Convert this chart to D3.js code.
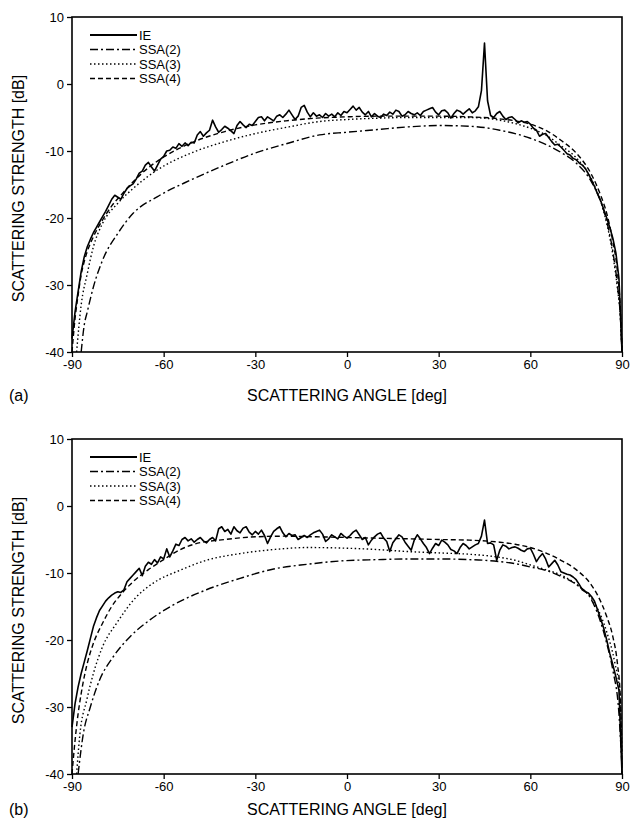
<!DOCTYPE html>
<html>
<head>
<meta charset="utf-8">
<script src="https://cdn.jsdelivr.net/npm/d3@7"></script>
<style>
  body { margin: 0; background: #fff; }
  text { font-family: "Liberation Sans", Arial, sans-serif; fill: #000; }
</style>
</head>
<body>
<svg id="chart" width="634" height="825"></svg>
<script>
// ---- data ----
var ieAngles = d3.range(-90, 91, 1)   // 1 deg grid for the IE curve

var ieTop = [-38,-34,-31,-28,-25.8,-24.3,-23.2,-22.2,-21.4,-20.6,
  -19.8,-19.0,-18.1,-17.2,-16.6,-16.9,-17.2,-16.3,-15.6,-15.2,
  -14.9,-14.2,-13.3,-13.0,-12.1,-11.7,-12.4,-13.0,-12.1,-11.2,
  -10.8,-10.0,-9.9,-9.4,-9.6,-8.9,-9.3,-8.8,-9.2,-8.7,
  -8.8,-7.6,-7.1,-7.8,-7.3,-6.9,-5.4,-6.4,-7.2,-6.8,
  -6.3,-6.6,-7.0,-7.4,-6.2,-5.6,-6.1,-6.5,-6.0,-6.2,
  -5.6,-5.0,-4.9,-5.5,-4.9,-5.2,-5.5,-4.8,-4.6,-5.0,
  -4.5,-3.9,-4.6,-5.3,-4.8,-3.5,-3.2,-4.2,-4.9,-4.3,
  -4.8,-4.6,-5.0,-4.4,-4.8,-4.5,-4.9,-4.3,-4.7,-4.1,
  -4.3,-3.8,-3.3,-3.9,-3.5,-4.2,-4.6,-4.1,-4.9,-4.4,
  -4.8,-5.0,-4.5,-4.7,-4.2,-4.5,-3.9,-4.1,-4.8,-4.6,
  -4.1,-4.4,-4.6,-4.3,-4.7,-4.1,-3.9,-3.7,-3.5,-4.2,
  -4.6,-4.0,-3.9,-4.3,-5.1,-4.4,-3.9,-4.1,-4.5,-4.1,
  -3.7,-4.3,-4.0,-3.4,-1.0,6.1,-2.5,-4.7,-5.0,-4.4,
  -4.1,-4.8,-5.3,-5.0,-4.9,-5.3,-5.8,-5.5,-5.7,-5.6,
  -6.0,-6.6,-6.9,-7.8,-7.5,-7.4,-8.0,-8.6,-9.1,-9.0,
  -9.4,-9.9,-10.4,-10.6,-11.1,-11.3,-11.8,-12.1,-12.6,-13.4,
  -14.3,-15.3,-16.4,-17.4,-18.7,-20.0,-21.4,-23.0,-25.2,-29.0,
  -40]

var ieBottom = [-33,-29.5,-27,-25,-23.3,-21.6,-19.8,-18.0,-16.7,-15.6,
  -14.9,-14.2,-13.7,-13.3,-13.0,-12.8,-12.9,-12.5,-11.3,-10.8,
  -10.3,-9.8,-9.3,-10.4,-9.0,-8.4,-8.7,-8.0,-8.5,-7.6,
  -7.9,-6.4,-7.6,-6.7,-5.7,-5.9,-5.0,-4.7,-5.2,-4.9,
  -5.4,-5.0,-4.7,-5.2,-5.5,-5.0,-4.7,-5.2,-3.4,-3.1,
  -3.8,-3.5,-4.2,-3.1,-3.7,-4.0,-3.3,-3.1,-3.9,-4.3,
  -3.8,-4.2,-3.6,-4.4,-5.6,-4.6,-3.8,-3.4,-3.1,-4.0,
  -4.6,-4.1,-4.4,-4.3,-5.0,-4.7,-4.4,-4.7,-4.3,-4.0,
  -3.8,-3.6,-4.2,-5.3,-4.9,-4.3,-4.6,-4.9,-4.1,-4.5,
  -4.8,-4.4,-3.9,-3.6,-4.3,-5.0,-4.7,-5.8,-5.1,-4.6,
  -4.2,-4.0,-4.8,-5.3,-6.8,-5.5,-4.9,-4.3,-4.6,-5.4,
  -6.0,-6.6,-5.1,-4.3,-4.9,-5.6,-6.2,-7.1,-6.3,-5.6,
  -5.9,-5.1,-5.4,-5.8,-6.5,-6.7,-7.1,-6.2,-5.6,-5.9,
  -6.4,-6.1,-5.8,-5.6,-4.5,-2.1,-5.6,-5.5,-5.8,-8.1,
  -6.6,-5.8,-6.0,-6.4,-6.2,-6.1,-6.3,-6.6,-6.8,-6.4,
  -6.3,-7.2,-8.3,-7.6,-7.1,-7.9,-9.1,-8.6,-8.1,-8.8,
  -9.8,-10.0,-10.2,-10.3,-10.6,-11.0,-11.7,-12.5,-12.8,-13.0,
  -13.5,-14.2,-15.5,-16.8,-18.2,-20.0,-22.0,-23.7,-25.5,-27.5,
  -40]

// SSA curves (top panel)
var ssa2TopAngles = [-87,-86,-85,-83,-80,-75,-70,-62,-51,-40,-30,-19,-9,0,10,20,30,40,45,50,55,60,65,70,75,80,83,85,87,88.5,89.5,90]
var ssa2Top = [-40,-36,-34,-30.3,-26.3,-22.3,-19.3,-16.8,-14.3,-12.1,-10.3,-8.8,-7.6,-7.2,-6.8,-6.4,-6.2,-6.3,-6.5,-6.9,-7.4,-8.1,-9.0,-10.2,-11.8,-14.6,-17.5,-20.5,-25,-30,-35,-40]
var ssa3TopAngles = [-88.5,-87,-85,-83,-80,-75,-70,-62,-51,-40,-30,-19,-9,0,10,20,30,40,45,50,55,60,65,70,75,80,83,85,87,88.5,89.5,90]
var ssa3Top = [-40,-33,-28.3,-24.3,-20.8,-17.8,-15.6,-12.8,-10.3,-8.6,-7.4,-6.4,-5.6,-5.3,-5.1,-5.0,-5.0,-5.0,-5.1,-5.4,-5.9,-6.6,-7.6,-9.2,-11.0,-14.2,-17.5,-20.8,-25.5,-30.5,-35,-40]
var ssa4TopAngles = [-90,-89,-88,-87,-86,-85,-83,-80,-77,-74,-70,-65,-60,-50,-40,-30,-20,-10,0,10,20,30,40,50,60,65,70,75,80,83,85,87,88.5,89.5,90]
var ssa4Top = [-40,-35,-31.5,-28.5,-26.5,-25,-22.8,-20.3,-18.2,-16.6,-14.6,-12.5,-10.9,-8.6,-7.1,-6.1,-5.5,-5.1,-4.9,-4.8,-4.8,-4.8,-4.9,-5.2,-6.0,-6.9,-8.4,-10.3,-13.5,-16.6,-19.3,-23.5,-28,-34,-40]

// SSA curves (bottom panel)
var ssa2BotAngles = [-88,-86.3,-84,-81,-76.5,-71,-64.5,-57,-46,-35,-24,-13,-2,10,20,30,40,45,50,55,60,65,70,75,80,83,85,87,89,90]
var ssa2Bot = [-40,-34,-30,-26,-22.5,-19.5,-17,-14.8,-12.5,-10.8,-9.4,-8.7,-8.2,-8.0,-7.9,-7.9,-8.0,-8.1,-8.3,-8.6,-9.1,-9.6,-10.5,-11.7,-14.0,-17.3,-20.5,-24.5,-31,-39]
var ssa3BotAngles = [-88.5,-87.4,-85.2,-83,-80,-75.4,-69,-63.4,-54.7,-46,-35,-24,-13,0,10,20,30,40,49,55,60,65,70,76,80,82,85,87.7,89.3,90]
var ssa3Bot = [-40,-34,-29,-25,-21,-17.5,-13.6,-11.5,-9.6,-8.1,-7.1,-6.5,-6.2,-6.3,-6.5,-6.8,-7.0,-7.2,-7.6,-8.1,-8.8,-9.5,-10.3,-12.0,-13.8,-15.3,-18.8,-23.5,-28,-37]
var ssa4BotAngles = [-90,-89,-88,-87,-86,-85,-83,-80,-77,-74,-70,-65,-60,-55,-50,-40,-30,-20,-10,0,10,20,30,40,50,55,60,65,70,75,80,82,85,87,88.5,89.5,90]
var ssa4Bot = [-40,-35,-31,-28,-25.5,-23.5,-20.5,-17.5,-15,-13.2,-11.3,-9.5,-8.0,-6.6,-5.7,-5.0,-4.6,-4.5,-4.6,-4.7,-4.8,-4.9,-5.0,-5.1,-5.4,-5.7,-6.2,-7.0,-8.1,-9.5,-11.8,-13.3,-16.5,-19.5,-23.5,-29,-40]

var xTicks = [-90, -60, -30, 0, 30, 60, 90]
var yTicks = [10, 0, -10, -20, -30, -40]
var seriesNames = ["IE", "SSA(2)", "SSA(3)", "SSA(4)"]
var dashes = [null, "8,3,2,3", "1.5,2.5", "5,3"]

function zip(a, v) { return a.map(function(d, i){ return [d, v[i]] }) }

var svg = d3.select("#chart")

function drawPanel(top, bottom, titleY, label, series) {
  var x = d3.scaleLinear().domain([-90, 90]).range([72, 622])
  var y = d3.scaleLinear().domain([-40, 10]).range([bottom, top])
  var g = svg.append("g")
  var plain = function(d){ return String(d) }   // hyphen minus, like the original

  // x axis
  var xa = g.append("g").attr("transform", "translate(0," + bottom + ")")
    .call(d3.axisBottom(x).tickValues(xTicks).tickFormat(plain).tickSize(5).tickPadding(3))
  xa.select(".domain").remove()
  xa.selectAll(".tick line").attr("stroke-width", 1.3)
  xa.selectAll("text").style("font-size", "13px").style("font-family", "Liberation Sans, Arial")

  // y axis
  var ya = g.append("g").attr("transform", "translate(72,0)")
    .call(d3.axisLeft(y).tickValues(yTicks).tickFormat(plain).tickSize(5).tickPadding(3))
  ya.select(".domain").remove()
  ya.selectAll(".tick line").attr("stroke-width", 1.3)
  ya.selectAll("text").style("font-size", "13px").style("font-family", "Liberation Sans, Arial")

  // frame
  g.append("rect").attr("x", 72).attr("y", top).attr("width", 550).attr("height", bottom - top)
    .attr("fill", "none").attr("stroke", "#000").attr("stroke-width", 1.6)

  var line = d3.line().x(function(d){ return x(d[0]) }).y(function(d){ return y(d[1]) })
  var smooth = d3.line().curve(d3.curveMonotoneX).x(function(d){ return x(d[0]) }).y(function(d){ return y(d[1]) })

  // SSA curves first, IE on top
  for (var k = 3; k >= 1; k--) {
    g.append("path").datum(series[k]).attr("d", smooth)
      .attr("fill", "none").attr("stroke", "#000").attr("stroke-width", 1.4)
      .attr("stroke-dasharray", dashes[k])
  }
  g.append("path").datum(series[0]).attr("d", line)
    .attr("fill", "none").attr("stroke", "#000").attr("stroke-width", 1.6)
    .attr("stroke-linejoin", "round")

  // legend
  var lg = g.append("g").attr("transform", "translate(90," + (top + 18) + ")")
  seriesNames.forEach(function(name, i){
    lg.append("line").attr("x1", 0).attr("x2", 47).attr("y1", i * 14.5).attr("y2", i * 14.5)
      .attr("stroke", "#000").attr("stroke-width", i == 0 ? 2 : 1.5)
      .attr("stroke-dasharray", dashes[i])
    lg.append("text").attr("x", 49).attr("y", i * 14.5 + 4.5)
      .style("font-size", "13px").text(name)
  })

  // titles
  g.append("text").attr("x", 347).attr("y", titleY).attr("text-anchor", "middle")
    .style("font-size", "16px").text("SCATTERING ANGLE [deg]")
  g.append("text").attr("transform", "translate(24," + ((top + bottom) / 2 + 4) + ") rotate(-90)")
    .attr("text-anchor", "middle").style("font-size", "16px").text("SCATTERING STRENGTH [dB]")
  g.append("text").attr("x", 9).attr("y", titleY).style("font-size", "16px").text(label)
}

drawPanel(17, 352, 401, "(a)", [zip(ieAngles, ieTop), zip(ssa2TopAngles, ssa2Top), zip(ssa3TopAngles, ssa3Top), zip(ssa4TopAngles, ssa4Top)])
drawPanel(439, 774, 815, "(b)", [zip(ieAngles, ieBottom), zip(ssa2BotAngles, ssa2Bot), zip(ssa3BotAngles, ssa3Bot), zip(ssa4BotAngles, ssa4Bot)])
</script>
</body>
</html>
